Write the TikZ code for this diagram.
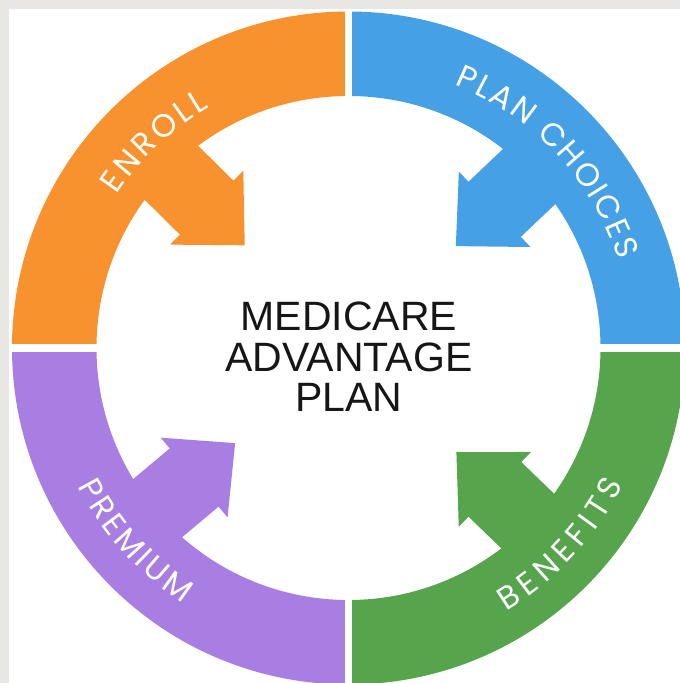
\documentclass[tikz,border=0pt]{standalone}
\usepackage{fontspec}
\setmainfont{Liberation Sans}
\newfontfamily\ringfont{Poppins}
\definecolor{PageGrey}{RGB}{232,231,227}
\definecolor{EnrollOrange}{RGB}{247,146,46}
\definecolor{ChoicesBlue}{RGB}{69,160,230}
\definecolor{BenefitsGreen}{RGB}{86,164,75}
\definecolor{PremiumPurple}{RGB}{169,126,227}
\definecolor{TitleBlack}{RGB}{22,22,22}
\usetikzlibrary{decorations.text}

\begin{document}
\begin{tikzpicture}[x=1pt, y=1pt,
    ring gap/.style = {white, line width=7.5pt},
    ring label/.style = {decorate, font=\ringfont\fontsize{32}{32}\selectfont,
        decoration={text along path, text align={fit to path},
        text={|\ringfont\fontsize{32}{32}\selectfont\color{white}|#1}}}]

\useasboundingbox (0,0) rectangle (680,683);
\fill[PageGrey] (0,0) rectangle (680,683);
\fill[white] (9,0) rectangle (680,674);
\clip (0,0) rectangle (680,683);

\coordinate (O) at (348.5,335);

\foreach \a/\col/\t/\tip in {90/EnrollOrange/135.3/146, 0/ChoicesBlue/43.5/148,
                             -90/BenefitsGreen/-44/150, 180/PremiumPurple/220/148} {
  \fill[\col, shift={(O)}]
      (\a:336.5) arc[start angle=\a, end angle=\a+90, radius=336.5]
      -- (\a+90:252) arc[start angle=\a+90, end angle=\a, radius=252] -- cycle;
  \fill[\col, shift={(O)}, rotate=\t]
      (\tip,0) -- (\tip+53.5,52) -- (\tip+53.5,38) -- (285,38)
      -- (285,-38) -- (\tip+53.5,-38) -- (\tip+53.5,-52) -- cycle;
}

\foreach \a in {0,90,180,270}
  \draw[ring gap] (O) ++(\a:240) -- ++(\a:98);

\path[ring label=ENROLL, shift={(O)}] (146.5:278) arc[start angle=146.5, end angle=120, radius=278];
\path[ring label=PLAN CHOICES, shift={(O)}] (68:284) arc[start angle=68, end angle=18, radius=284];
\path[ring label=BENEFITS, shift={(O)}] (-59:307) arc[start angle=-59, end angle=-26.5, radius=307];
\path[ring label=PREMIUM, shift={(O)}] (207:304) arc[start angle=207, end angle=237, radius=304];

\node[align=center, font=\fontsize{41}{40.5}\selectfont, text=TitleBlack, inner sep=0pt]
    (title) at (349,326) {MEDICARE\\ADVANTAGE\\PLAN};

\end{tikzpicture}
\end{document}
